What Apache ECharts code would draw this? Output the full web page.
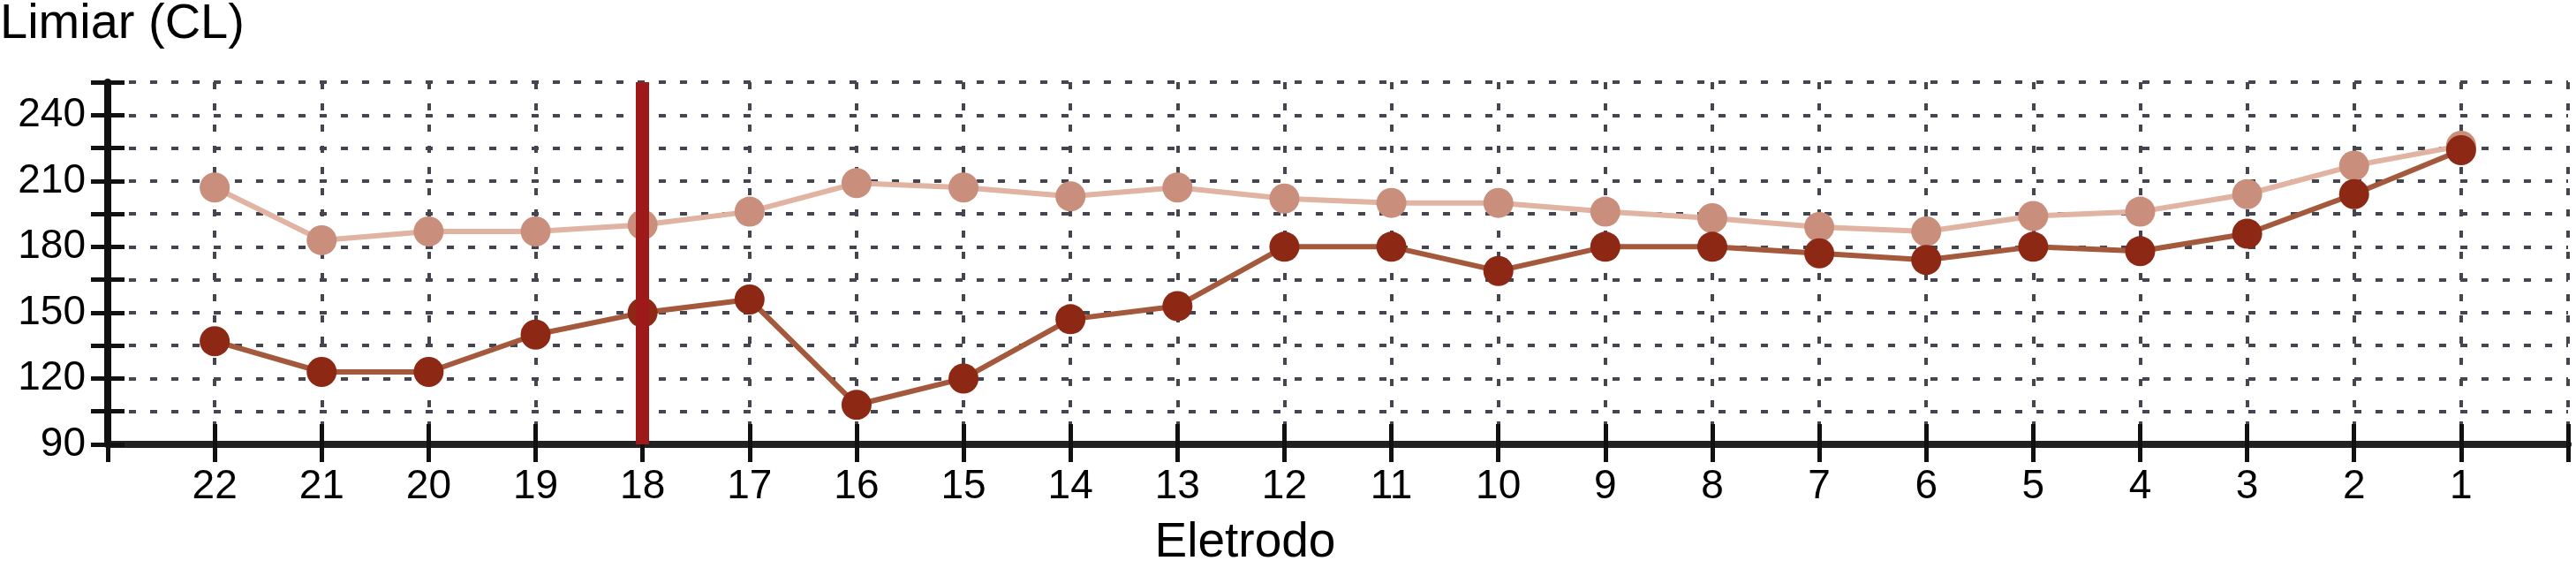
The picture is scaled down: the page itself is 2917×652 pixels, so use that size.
<!DOCTYPE html>
<html>
<head>
<meta charset="utf-8">
<script src="https://cdn.jsdelivr.net/npm/echarts@6/dist/echarts.min.js"></script>
<style>
html,body{margin:0;padding:0;background:#fff;}
#chart{width:2917px;height:652px;}
</style>
</head>
<body>
<div id="chart"></div>
<script>
// Electrode numbers (x axis, shown right-to-left from 22 to 1)
const electrodes = [22,21,20,19,18,17,16,15,14,13,12,11,10,9,8,7,6,5,4,3,2,1];
// Threshold (CL) — darker series
const thresholdDark = [137,123,123,140,150,156,108,120,147,153,180,180,169,180,180,177,174,180,178,186,204,224];
// Threshold (CL) — lighter series
const thresholdLight = [207,183,187,187,190,196,209,207,203,207,202,200,200,196,193,189,187,194,196,204,217,226];
// Marked electrode (vertical bar)
const markedElectrode = 18;
// Y axis range / ticks
const yMin = 90, yMax = 255, yStep = 15, yLabelStep = 30;
const xMin = 0, xMax = 23;
const xTitle = 'Eletrodo';
const yTitle = 'Limiar (CL)';

const chart = echarts.init(document.getElementById('chart'), null, {renderer: 'canvas'});
const FONT = '"Liberation Sans", Arial, Helvetica, sans-serif';

const pairs = (ys) => electrodes.map((e, i) => [e, ys[i]]);

const gridLine = {show: true, lineStyle: {color: '#45454f', width: 4, type: [8, 16]}};

chart.setOption({
  animation: false,
  backgroundColor: '#ffffff',
  grid: {left: 122, right: 9, top: 93, bottom: 149},
  graphic: [{
    type: 'text', left: 0, top: 0,
    style: {text: yTitle, font: '56px ' + FONT, fill: '#000'}
  }],
  xAxis: [{
    type: 'value', min: xMin, max: xMax, interval: 1, inverse: true,
    name: xTitle, nameLocation: 'middle', nameGap: 84,
    nameTextStyle: {fontSize: 55, fontFamily: FONT, color: '#000', padding: [0, 210, 0, 0]},
    axisLine: {show: true, onZero: false, lineStyle: {color: '#222', width: 8}},
    axisTick: {show: true, inside: false, length: 20, lineStyle: {color: '#111', width: 5}},
    axisLabel: {
      fontSize: 46, fontFamily: FONT, color: '#000', margin: 25,
      formatter: v => (v >= 1 && v <= 22) ? String(v) : ''
    },
    splitLine: gridLine
  }, {
    type: 'value', min: xMin, max: xMax, interval: 1, inverse: true, position: 'bottom',
    axisLine: {show: false, onZero: false},
    axisTick: {show: true, inside: true, length: 23, lineStyle: {color: '#111', width: 5}},
    axisLabel: {show: false}, splitLine: {show: false}
  }],
  yAxis: [{
    type: 'value', min: yMin, max: yMax, interval: yStep,
    axisLine: {show: true, onZero: false, lineStyle: {color: '#111', width: 8}},
    axisTick: {show: true, inside: false, length: 19, lineStyle: {color: '#111', width: 5}},
    axisLabel: {
      fontSize: 46, fontFamily: FONT, color: '#000', margin: 25,
      formatter: v => ((v - yMin) % yLabelStep === 0) ? String(v) : ''
    },
    splitLine: gridLine
  }, {
    type: 'value', min: yMin, max: yMax, interval: yStep, position: 'left',
    axisLine: {show: false, onZero: false},
    axisTick: {show: true, inside: true, length: 19, lineStyle: {color: '#111', width: 5}},
    axisLabel: {show: false}, splitLine: {show: false}
  }],
  series: [{
    name: 'light', type: 'line', data: pairs(thresholdLight), z: 3,
    symbol: 'circle', symbolSize: 34,
    lineStyle: {color: '#e0b3a2', width: 6},
    itemStyle: {color: '#c98f7c'}
  }, {
    name: 'dark', type: 'line', data: pairs(thresholdDark), z: 4,
    symbol: 'circle', symbolSize: 34,
    lineStyle: {color: '#a4583c', width: 6},
    itemStyle: {color: '#8c2814'}
  }, {
    name: 'marker', type: 'line', data: [], z: 6,
    markLine: {
      silent: true, symbol: ['none', 'none'], label: {show: false},
      lineStyle: {color: '#9e1a1a', width: 15, type: 'solid'},
      data: [{xAxis: markedElectrode}]
    }
  }]
});
</script>
</body>
</html>
